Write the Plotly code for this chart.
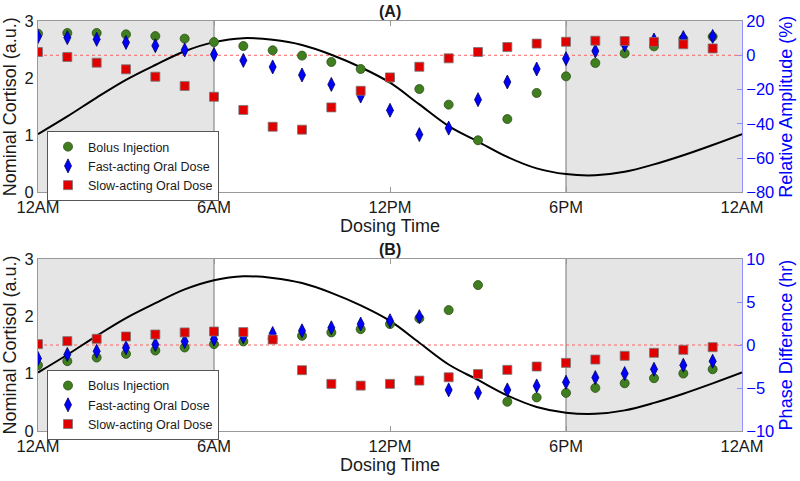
import plotly.graph_objects as go
from plotly.subplots import make_subplots

hours = list(range(24))
curve_hours = list(range(25))
cortisol_curve = [1.02, 1.33, 1.66, 1.97, 2.23, 2.47, 2.63, 2.70, 2.67, 2.58, 2.41, 2.19,
                  1.92, 1.54, 1.16, 0.89, 0.62, 0.42, 0.32, 0.30, 0.36, 0.49, 0.65, 0.83, 1.02]

# Panel A: relative amplitude (%)
amp_bolus = [12.6, 13.0, 13.0, 12.2, 11.2, 9.7, 7.7, 5.4, 2.9, -0.2, -3.9, -8.0,
             -13.5, -19.7, -28.8, -49.6, -37.2, -22.0, -12.3, -4.5, 1.1, 5.2, 9.5, 10.9]
amp_fast = [10.9, 10.3, 9.3, 7.5, 5.6, 3.1, 0.5, -3.0, -6.8, -11.5, -17.0, -23.8,
            -32.1, -46.3, -42.5, -25.9, -15.6, -8.0, -2.0, 2.5, 6.0, 8.9, 10.3, 11.0]
amp_slow = [1.9, -1.0, -4.3, -8.2, -12.5, -17.9, -24.2, -31.9, -41.7, -43.4, -30.4, -20.7,
            -12.9, -6.7, -1.8, 1.9, 4.8, 6.8, 7.9, 8.5, 8.3, 7.7, 6.4, 4.0]

# Panel B: phase difference (hr)
ph_bolus = [-2.35, -1.88, -1.46, -1.03, -0.64, -0.29, 0.10, 0.41, 0.72, 1.07, 1.46, 1.84,
            2.43, 3.09, 4.06, 6.97, -6.6, -6.1, -5.57, -4.99, -4.45, -3.86, -3.32, -2.82]
ph_fast = [-1.57, -1.10, -0.72, -0.33, 0.06, 0.41, 0.68, 0.95, 1.34, 1.65, 2.00, 2.43,
           2.82, 3.30, -5.22, -5.55, -5.22, -4.76, -4.33, -3.79, -3.32, -2.82, -2.35, -1.88]
ph_slow = [0.10, 0.45, 0.72, 0.99, 1.22, 1.46, 1.57, 1.50, 0.64, -2.93, -4.52, -4.72,
           -4.52, -4.14, -3.75, -3.38, -2.89, -2.50, -2.08, -1.69, -1.26, -0.91, -0.56, -0.25]

tick_vals = [0, 6, 12, 18, 24]
tick_text = ["12AM", "6AM", "12PM", "6PM", "12AM"]
series_names = ["Bolus Injection", "Fast-acting Oral Dose", "Slow-acting Oral Dose"]

FONT = "Liberation Sans, Arial, sans-serif"
GREEN = "#3f7f1f"
BLUE = "#0000ff"
RED = "#e00000"
FRAME = "#999999"
RAXIS = "#8f8fff"

fig = make_subplots(rows=2, cols=1, specs=[[{"secondary_y": True}], [{"secondary_y": True}]],
                    vertical_spacing=0.1)

styles = [
    dict(symbol="circle", size=9, color=GREEN, line=dict(color="#2d4d18", width=0.8)),
    dict(symbol="diamond-tall", size=10, color=BLUE, line=dict(color="#00005a", width=0.8)),
    dict(symbol="square", size=9, color=RED, line=dict(color="#777777", width=0.8)),
]

panels = [
    (1, [amp_bolus, amp_fast, amp_slow], "legend"),
    (2, [ph_bolus, ph_fast, ph_slow], "legend2"),
]
for row, series, leg in panels:
    fig.add_trace(go.Scatter(x=curve_hours, y=cortisol_curve, mode="lines", line=dict(color="black", width=2, shape="spline"),
                             showlegend=False, hoverinfo="skip"), row=row, col=1, secondary_y=False)
    for name, vals, st in zip(series_names, series, styles):
        fig.add_trace(go.Scatter(x=hours, y=vals, mode="markers", name=name, marker=st, legend=leg),
                      row=row, col=1, secondary_y=True)

fig.update_layout(
    width=800, height=481,
    margin=dict(l=38, r=58, t=21, b=50, autoexpand=False),
    paper_bgcolor="white", plot_bgcolor="white",
    font=dict(family=FONT, color="#1a1a1a"),
)

# domains
fig.update_layout(
    xaxis=dict(domain=[0, 1]), xaxis2=dict(domain=[0, 1]),
    yaxis=dict(domain=[0.582, 1]), yaxis2=dict(domain=[0.582, 1]),
    yaxis3=dict(domain=[0, 0.4195]), yaxis4=dict(domain=[0, 0.4195]),
)

for xa in ["xaxis", "xaxis2"]:
    fig.layout[xa].update(range=[0, 24], tickvals=tick_vals, ticktext=tick_text, showgrid=False, zeroline=False,
                          showline=True, linecolor=FRAME, linewidth=1, mirror="ticks", ticks="inside", ticklen=5,
                          tickcolor=FRAME, tickfont=dict(size=16.5, color="#1a1a1a"), automargin=False,
                          title=dict(text="Dosing Time", font=dict(size=18), standoff=2))

for ya in ["yaxis", "yaxis3"]:
    fig.layout[ya].update(range=[0, 3], tickvals=[0, 1, 2, 3], showgrid=False, zeroline=False, showline=True,
                          linecolor=FRAME, linewidth=1, ticks="", tickfont=dict(size=16.5, color="#1a1a1a"),
                          automargin=False,
                          title=dict(text="Nominal Cortisol (a.u.)", font=dict(size=18), standoff=3))

fig.layout["yaxis2"].update(range=[-80, 20], tickvals=[-80, -60, -40, -20, 0, 20], showgrid=False, zeroline=False,
                            showline=True, linecolor=RAXIS, linewidth=1, ticks="inside", ticklen=5, tickcolor=RAXIS,
                            tickfont=dict(size=16.5, color=BLUE), automargin=False,
                            title=dict(text="Relative Amplitude (%)", font=dict(size=18, color=BLUE), standoff=6))
fig.layout["yaxis4"].update(range=[-10, 10], tickvals=[-10, -5, 0, 5, 10], showgrid=False, zeroline=False,
                            showline=True, linecolor=RAXIS, linewidth=1, ticks="inside", ticklen=5, tickcolor=RAXIS,
                            tickfont=dict(size=16.5, color=BLUE), automargin=False,
                            title=dict(text="Phase Difference (hr)", font=dict(size=18, color=BLUE), standoff=6))

shapes = []
for xr, yr, y2r in [("x", "y", "y2"), ("x2", "y3", "y4")]:
    for a, b in [(0, 6), (18, 24)]:
        shapes.append(dict(type="rect", xref=xr, yref=f"{yr} domain", x0=a, x1=b, y0=0, y1=1,
                           fillcolor="#e5e5e5", line=dict(width=0), layer="below"))
    for xv in [6, 18]:
        shapes.append(dict(type="line", xref=xr, yref=f"{yr} domain", x0=xv, x1=xv, y0=0, y1=1,
                           line=dict(color="#8a8a8a", width=1.2), layer="below"))
    shapes.append(dict(type="line", xref=f"{xr} domain", yref=y2r, x0=0, x1=1, y0=0, y1=0,
                       line=dict(color="#ff6060", width=1, dash="dot"), layer="below"))
fig.update_layout(shapes=shapes)

legend_style = dict(bgcolor="white", bordercolor="#555555", borderwidth=1, font=dict(size=12.5, color="#1a1a1a"),
                    xanchor="left", yanchor="top", x=0.0128, tracegroupgap=0)
fig.update_layout(legend=dict(legend_style, y=0.7317), legend2=dict(legend_style, y=0.149))

fig.add_annotation(text="<b>(A)</b>", xref="paper", yref="paper", x=0.5, y=1.024, showarrow=False,
                   font=dict(size=16, color="#1a1a1a"), yanchor="middle")
fig.add_annotation(text="<b>(B)</b>", xref="paper", yref="paper", x=0.5, y=0.4415, showarrow=False,
                   font=dict(size=16, color="#1a1a1a"), yanchor="middle")

fig.write_html("out.html", config={"displayModeBar": False},
               post_script="document.body.style.margin='0';document.body.style.overflow='hidden';")
